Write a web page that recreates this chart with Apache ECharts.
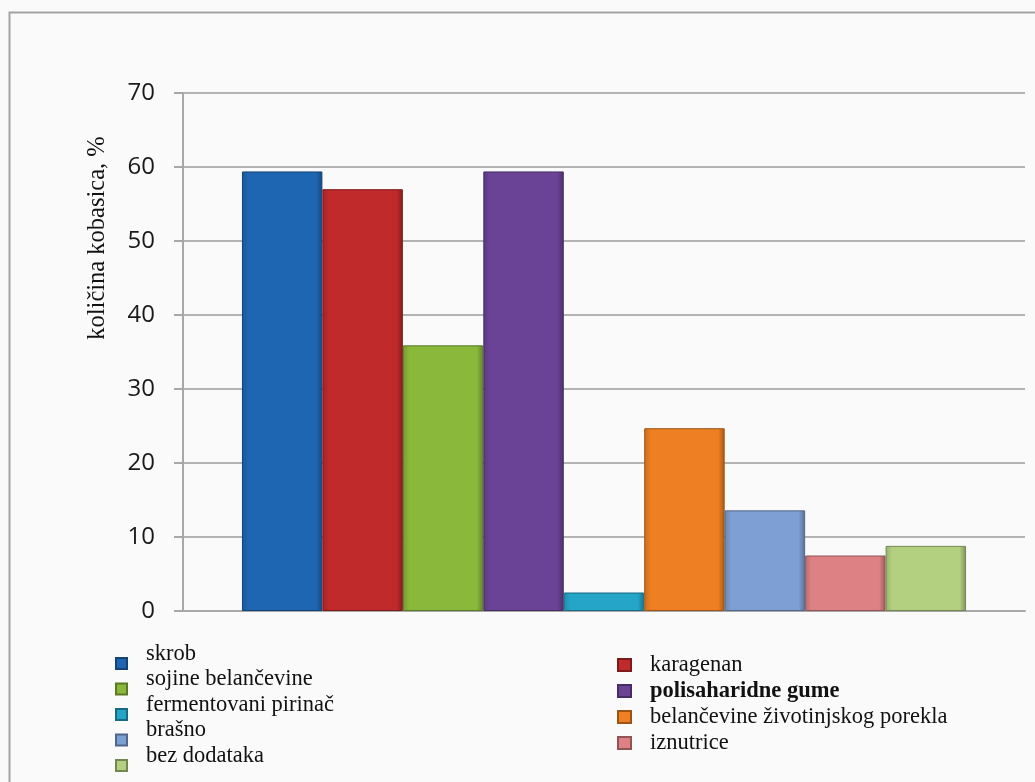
<!DOCTYPE html>
<html>
<head>
<meta charset="utf-8">
<script src="https://cdn.jsdelivr.net/npm/echarts@6/dist/echarts.min.js"></script>
<style>
  html, body { margin: 0; padding: 0; background: #fafafa; }
  #chart { width: 1035px; height: 782px; }
</style>
</head>
<body>
<div id="chart"></div>
<script>
// podaci
var names = ['skrob', 'karagenan', 'sojine belančevine', 'polisaharidne gume',
  'fermentovani pirinač', 'belančevine životinjskog porekla', 'brašno', 'iznutrice', 'bez dodataka']
var values = [59.4, 57.0, 35.9, 59.4, 2.5, 24.7, 13.6, 7.5, 8.8]
var colors = ['#1f66b2', '#c02a2b', '#8ab83a', '#6b4396', '#25a5c8', '#ee7f22', '#7d9fd3', '#dd8184', '#b2d07f']
var yTicks = [0, 10, 20, 30, 40, 50, 60, 70]
var leftLegend = ['skrob', 'sojine belančevine', 'fermentovani pirinač', 'brašno', 'bez dodataka']
var rightLegend = ['karagenan', 'polisaharidne gume', 'belančevine životinjskog porekla', 'iznutrice']

function shade(hex, f) {
  var n = parseInt(hex.slice(1), 16)
  var r = (n >> 16) & 255, g = (n >> 8) & 255, b = n & 255
  var m = function (c) { return Math.max(0, Math.min(255, Math.round(f > 0 ? c + (255 - c) * f : c * (1 + f)))) }
  return 'rgb(' + m(r) + ',' + m(g) + ',' + m(b) + ')'
}

var chart = echarts.init(document.getElementById('chart'))

var series = names.map(function (n, i) {
  var c = colors[i]
  return {
    name: n,
    type: 'bar',
    barGap: '0%',
    barCategoryGap: '14%',
    data: [values[i]],
    itemStyle: {
      color: new echarts.graphic.LinearGradient(0, 0, 1, 0, [
        { offset: 0, color: shade(c, -0.15) },
        { offset: 0.08, color: c },
        { offset: 0.92, color: c },
        { offset: 1, color: shade(c, -0.3) }
      ]),
      borderColor: shade(c, -0.35),
      borderWidth: 1
    }
  }
})

var serif = { fontFamily: 'Liberation Serif', fontSize: 22.5, color: '#111' }

// lijeva kolona: tekst je u originalu pomaknut iznad markera
var leftRich = {
  a: Object.assign({}, serif, { lineHeight: 26, padding: [0, 0, 19, 14] })
}
var rightRich = {
  a: Object.assign({}, serif, { lineHeight: 26, padding: [0, 0, 0, 14] }),
  b: Object.assign({}, serif, { lineHeight: 26, padding: [0, 0, 0, 14], fontWeight: 'bold' })
}

chart.setOption({
  backgroundColor: '#fafafa',
  animation: false,
  graphic: [
    {
      type: 'rect',
      shape: { x: 9.5, y: 12.5, width: 1040, height: 800 },
      style: { fill: 'none', stroke: '#a3a3a3', lineWidth: 2 }
    },
    {
      type: 'text',
      x: 98,
      y: 238,
      rotation: Math.PI / 2,
      style: {
        text: 'količina kobasica, %',
        font: '24.5px "Liberation Serif"',
        fill: '#111',
        align: 'center',
        verticalAlign: 'middle'
      }
    }
  ],
  grid: { left: 183, right: 10, top: 93, bottom: 171 },
  legend: [
    {
      data: leftLegend,
      orient: 'vertical',
      left: 110,
      top: 637.5,
      height: 200,
      icon: 'rect',
      itemWidth: 11,
      itemHeight: 11,
      itemGap: -16.5,
      formatter: function (n) { return '{a|' + n + '}' },
      textStyle: { rich: leftRich }
    },
    {
      data: rightLegend,
      orient: 'vertical',
      left: 612,
      top: 648.5,
      height: 200,
      icon: 'rect',
      itemWidth: 13,
      itemHeight: 12,
      itemGap: 3,
      formatter: function (n) {
        return (n === 'polisaharidne gume' ? '{b|' : '{a|') + n + '}'
      },
      textStyle: { rich: rightRich }
    }
  ],
  xAxis: {
    type: 'category',
    data: [''],
    axisLine: { lineStyle: { color: '#a8a8a8', width: 2 } },
    axisTick: { show: false },
    axisLabel: { show: false }
  },
  yAxis: {
    type: 'value',
    min: yTicks[0],
    max: yTicks[yTicks.length - 1],
    interval: 10,
    axisLine: { show: true, lineStyle: { color: '#a8a8a8', width: 2 } },
    axisTick: { show: true, length: 9, lineStyle: { color: '#a8a8a8', width: 2 } },
    axisLabel: {
      margin: 28,
      fontFamily: 'Open Sans',
      fontSize: 24,
      color: '#1a1a1a'
    },
    splitLine: { lineStyle: { color: '#b4b4b4', width: 2 } }
  },
  series: series
})
</script>
</body>
</html>
